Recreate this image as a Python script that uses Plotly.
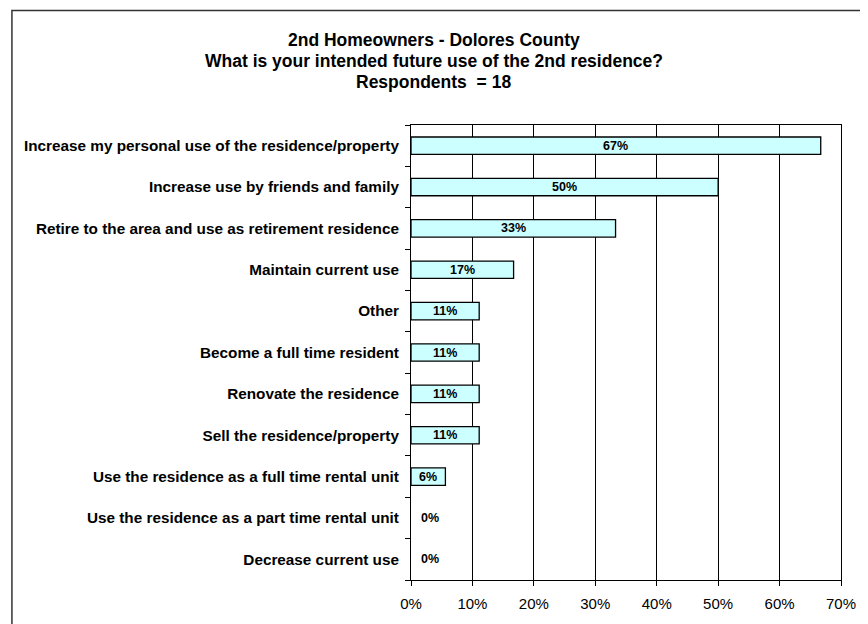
import plotly.graph_objects as go

categories = [
    "Increase my personal use of the residence/property",
    "Increase use by friends and family",
    "Retire to the area and use as retirement residence",
    "Maintain current use",
    "Other",
    "Become a full time resident",
    "Renovate the residence",
    "Sell the residence/property",
    "Use the residence as a full time rental unit",
    "Use the residence as a part time rental unit",
    "Decrease current use",
]
values = [66.7, 50.0, 33.3, 16.7, 11.1, 11.1, 11.1, 11.1, 5.6, 0.0, 0.0]
value_labels = ["67%", "50%", "33%", "17%", "11%", "11%", "11%", "11%", "6%", "0%", "0%"]
tick_vals = [0, 10, 20, 30, 40, 50, 60, 70]
tick_text = ["0%", "10%", "20%", "30%", "40%", "50%", "60%", "70%"]
title_lines = [
    "2nd Homeowners - Dolores County",
    "What is your intended future use of the 2nd residence?",
    "Respondents  = 18",
]

FONT = "Liberation Sans, Arial, sans-serif"

# figure geometry (page body has an 8px margin)
W, H = 860, 616
ML, MR, MT, MB = 403, 26, 117, 42
PW, PH = W - ML - MR, H - MT - MB


def px_x(px):
    return (px - ML) / PW


def px_y(py):
    return (H - MB - py) / PH


fig = go.Figure()
fig.add_trace(go.Bar(
    y=categories,
    x=values,
    orientation="h",
    marker=dict(color="#CCFFFF",
                line=dict(color="#000000", width=[1.3 if v > 0 else 0 for v in values])),
    width=0.42,
    hoverinfo="skip",
))

annotations = []
for cat, v, lab in zip(categories, values, value_labels):
    if v > 0:
        annotations.append(dict(x=v / 2, y=cat, xref="x", yref="y", text="<b>%s</b>" % lab,
                                showarrow=False, xanchor="center", yanchor="middle",
                                font=dict(family=FONT, size=12.5, color="#000")))
    else:
        annotations.append(dict(x=0, y=cat, xref="x", yref="y", text="<b>%s</b>" % lab,
                                showarrow=False, xanchor="left", yanchor="middle", xshift=8,
                                font=dict(family=FONT, size=12.5, color="#000")))

for line, cy in zip(title_lines, [32, 53, 73.5]):
    annotations.append(dict(
        x=px_x(426), y=px_y(cy), xref="paper", yref="paper", xanchor="center", yanchor="middle",
        text="<b>%s</b>" % line, showarrow=False,
        font=dict(family=FONT, size=17.5, color="#000"),
    ))

fig.update_layout(
    width=W, height=H,
    margin=dict(l=ML, r=MR, t=MT, b=MB),
    paper_bgcolor="white", plot_bgcolor="white",
    showlegend=False,
    font=dict(family=FONT, color="#000"),
    annotations=annotations,
    shapes=[dict(type="rect", xref="paper", yref="paper",
                 x0=px_x(3), x1=px_x(W + 40),
                 y0=px_y(H + 40), y1=px_y(2),
                 line=dict(color="#333333", width=1.5), layer="below")],
    xaxis=dict(
        range=[0, 70], tickvals=tick_vals, ticktext=tick_text,
        showgrid=True, gridcolor="#000000", gridwidth=1,
        showline=True, linecolor="#000000", linewidth=1, mirror=True,
        ticks="outside", ticklen=5, tickcolor="#000000",
        tickfont=dict(family=FONT, size=15, color="#000"),
        ticklabelstandoff=5,
        zeroline=False, fixedrange=True,
    ),
    yaxis=dict(
        autorange="reversed", tickson="boundaries",
        showline=True, linecolor="#000000", linewidth=1, mirror=True,
        ticks="outside", ticklen=5, tickcolor="#000000",
        showgrid=False,
        tickfont=dict(family=FONT, size=15.3, color="#000"),
        tickvals=categories,
        ticktext=["<b>%s</b>" % c for c in categories],
        ticklabelstandoff=8,
        fixedrange=True,
    ),
)

fig.write_html("out.html")
